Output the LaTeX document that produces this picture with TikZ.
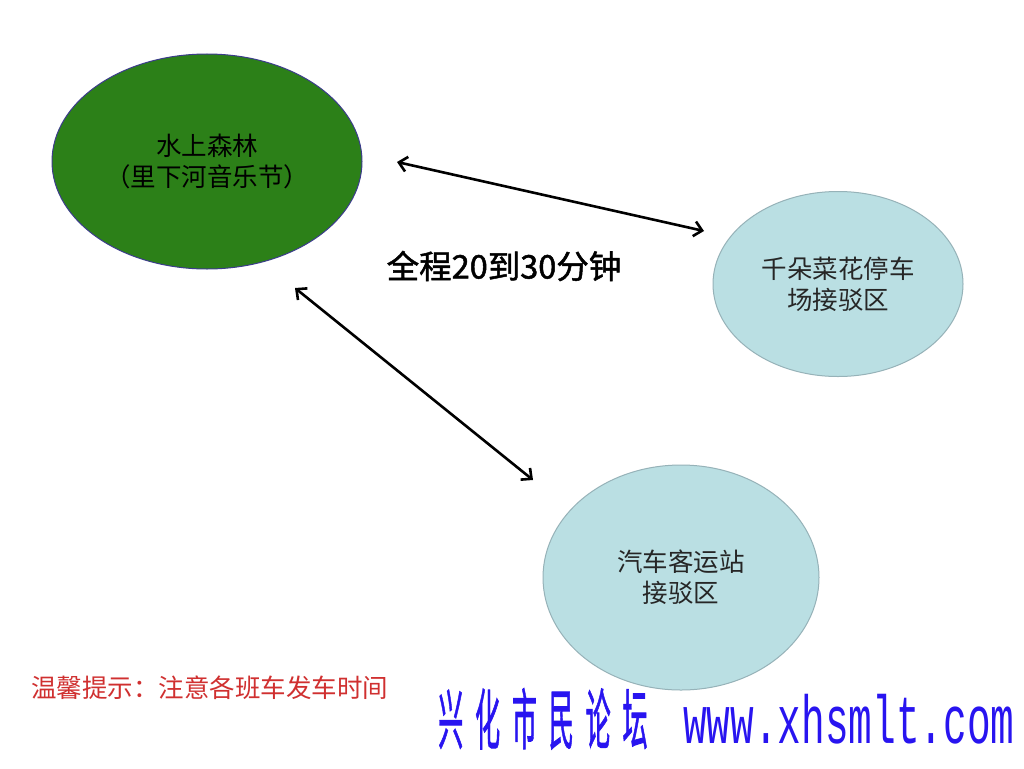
\documentclass[tikz,border=0pt]{standalone}
\usepackage{fontspec}
\usepackage{graphicx}
\setmainfont{Noto Sans CJK SC}
\newfontfamily\cjk{Noto Sans CJK SC}
\newfontfamily\cjkmid[FakeBold=1.5]{Noto Sans CJK SC}
\newfontfamily\wmlatin{Liberation Mono}
\usetikzlibrary{shapes.geometric,arrows.meta}
\definecolor{forestgreen}{RGB}{44,128,24}
\definecolor{greenborder}{RGB}{60,60,140}
\definecolor{lightteal}{RGB}{186,223,227}
\definecolor{tealborder}{RGB}{150,178,184}
\definecolor{tipred}{RGB}{208,48,48}
\definecolor{wmblue}{RGB}{40,20,240}
\tikzset{
  venue/.style={ellipse, draw=greenborder, line width=1pt, fill=forestgreen, inner sep=0pt,
    align=center, font=\cjk\fontsize{25.5}{31}\selectfont, text=black},
  stop/.style={ellipse, draw=tealborder, line width=1pt, fill=lightteal, inner sep=0pt,
    align=center, font=\cjk\fontsize{25.5}{31}\selectfont, text=black!85},
  link/.style={line width=2.6pt, {Straight Barb[length=8pt,width=15pt]}-{Straight Barb[length=8pt,width=15pt]}},
  wmtext/.style={inner sep=0pt, text=wmblue},
}
\begin{document}
\begin{tikzpicture}[x=1pt,y=-1pt]
\useasboundingbox[fill=white] (0,0) rectangle (1024,768);
\node[venue, minimum width=310pt, minimum height=215pt] (forest) at (207,161.5) {水上森林\\（里下河音乐节）};
\node[stop, minimum width=250pt, minimum height=185pt] (qianduo) at (838,284) {千朵菜花停车\\场接驳区};
\node[stop, minimum width=276pt, minimum height=225pt] (station) at (681,577.5) {汽车客运站\\接驳区};
\coordinate (a1) at (397,162);
\coordinate (a2) at (704,231);
\coordinate (b1) at (295,288);
\coordinate (b2) at (533,480);
\draw[link] (a1) -- (a2);
\draw[link] (b1) -- (b2);
\node[font=\cjkmid\fontsize{32.5}{36}\selectfont, text=black] (time) at (504,266) {全程20到30分钟};
\node[anchor=west, inner sep=0pt, font=\cjk\fontsize{25.5}{30}\selectfont, text=tipred] (tip) at (31,688) {温馨提示：注意各班车发车时间};
\node[wmtext, anchor=base west] (wmcn) at (438,744)
  {\scalebox{0.38}[1]{\cjkmid\fontsize{66}{70}\selectfont\addfontfeatures{LetterSpace=47}兴化市民论坛}};
\node[wmtext, anchor=base west] (wmurl) at (683,743)
  {\scalebox{0.58}[1]{\wmlatin\fontsize{68}{72}\selectfont www.xhsmlt.com}};
\end{tikzpicture}
\end{document}
